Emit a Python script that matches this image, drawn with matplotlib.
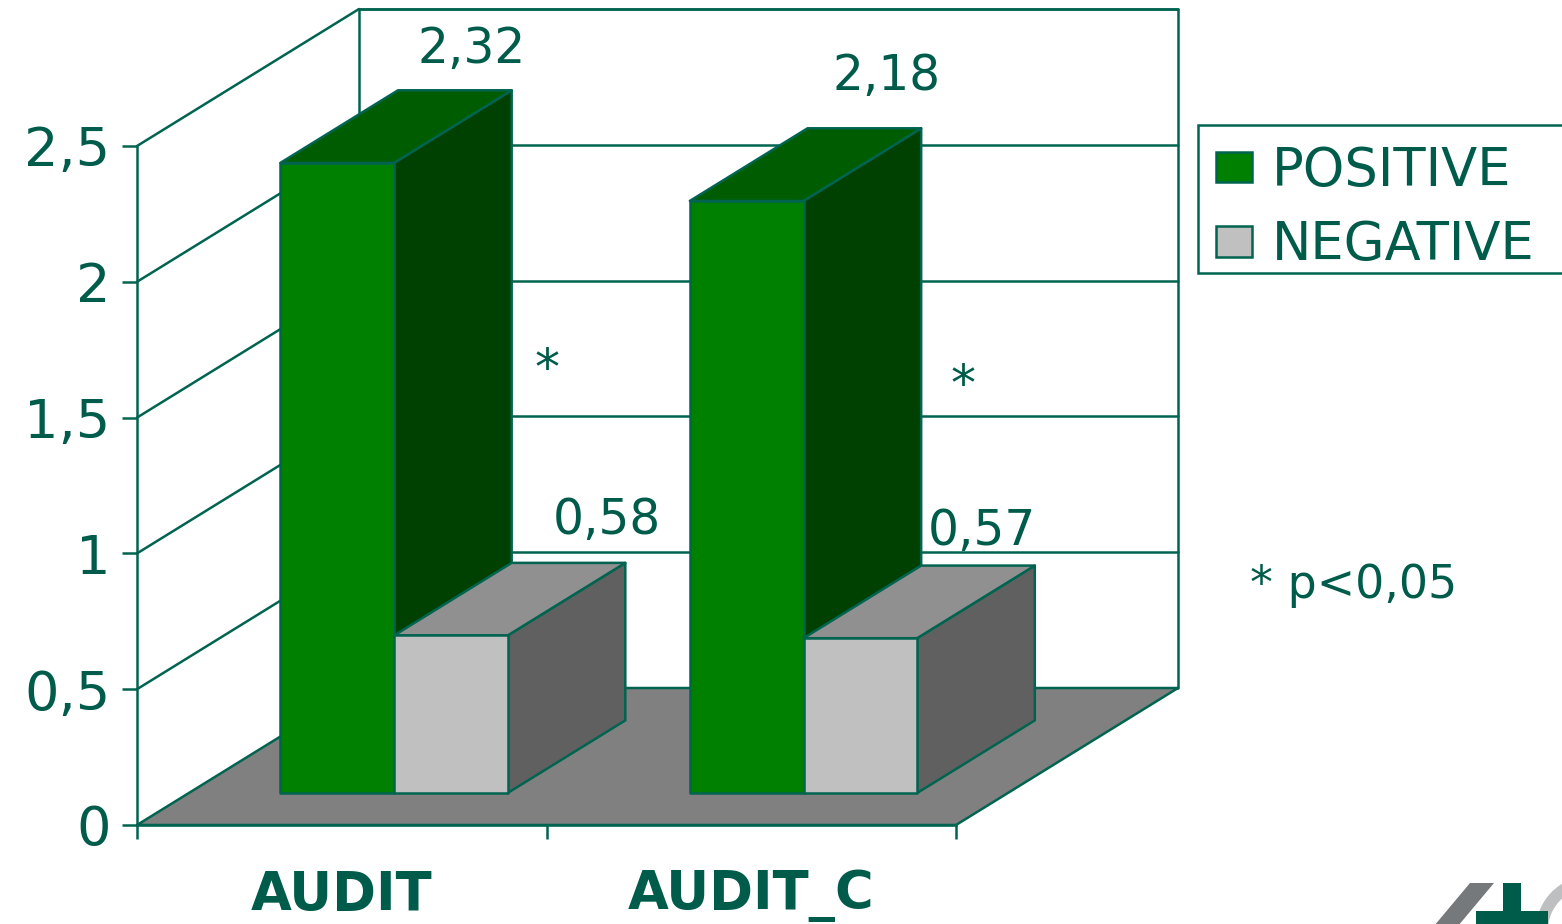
import matplotlib
matplotlib.use("Agg")
import matplotlib.pyplot as plt
from matplotlib.patches import Polygon, Rectangle, Wedge, Patch
from matplotlib.transforms import Affine2D

# ---- data ----
categories = ["AUDIT", "AUDIT_C"]
series_names = ["POSITIVE", "NEGATIVE"]
positive = [2.32, 2.18]
negative = [0.58, 0.57]
y_ticks = [0, 0.5, 1, 1.5, 2, 2.5]
y_tick_labels = ["0", "0,5", "1", "1,5", "2", "2,5"]
value_labels_pos = ["2,32", "2,18"]
value_labels_neg = ["0,58", "0,57"]

# ---- style ----
W, H = 1562, 924
INK = "#005C4A"
LINE = "#006450"
LW = 1.8
FRONT = ["#008000", "#C0C0C0"]
TOP = ["#005C00", "#909090"]
SIDE = ["#004000", "#606060"]
FLOOR = "#808080"

fig = plt.figure(figsize=(W / 100, H / 100), dpi=100, facecolor="white")
plt.rcParams["font.family"] = ["DejaVu Sans"]
L, R, T, B = 137, 956, 146, 825
ax = fig.add_axes([L / W, 1 - B / H, (R - L) / W, (B - T) / H])
ax.set_xlim(0, 2)
ax.set_ylim(0, 2.5)
ax.patch.set_visible(False)
px_tf = Affine2D().scale(1, -1).translate(0, H)

DX = 222 / 409.5   # depth shift in category units
DY = 137 / 271.6   # depth shift in value units


def proj(x, v, d=0.0):
    return (x + d * DX, v + d * DY)


def poly(points, fc, ec=LINE, lw=LW, z=1):
    ax.add_patch(Polygon(points, closed=True, facecolor=fc, edgecolor=ec,
                         linewidth=lw, clip_on=False, zorder=z, joinstyle="round"))


def line(a, b, z=1):
    ax.plot([a[0], b[0]], [a[1], b[1]], color=LINE, lw=LW, clip_on=False, zorder=z,
            solid_capstyle="round")


# walls
poly([proj(0, 0, 1), proj(2, 0, 1), proj(2, 2.5, 1), proj(0, 2.5, 1)], "white", z=1)
poly([proj(0, 0, 0), proj(2, 0, 0), proj(2, 0, 1), proj(0, 0, 1)], FLOOR, z=1.1)
for v in y_ticks[1:]:
    line(proj(0, v, 0), proj(0, v, 1), z=1.05)
    line(proj(0, v, 1), proj(2, v, 1), z=1.05)

# bars
BAR_D0, BAR_D1 = 32 / 137, 32 / 137 + 0.53
BAR_LEFT, BAR_W = 0.2235, 0.2775


def bar(x0, x1, v, s):
    z = 2 + s * 0.1
    poly([proj(x1, 0, BAR_D0), proj(x1, 0, BAR_D1), proj(x1, v, BAR_D1), proj(x1, v, BAR_D0)], SIDE[s], z=z)
    poly([proj(x0, v, BAR_D0), proj(x1, v, BAR_D0), proj(x1, v, BAR_D1), proj(x0, v, BAR_D1)], TOP[s], z=z)
    poly([proj(x0, 0, BAR_D0), proj(x1, 0, BAR_D0), proj(x1, v, BAR_D0), proj(x0, v, BAR_D0)], FRONT[s], z=z)


label_shift_pos = [(17, 41), (22, 52)]
label_shift_neg = [(38, 43), (4, 35)]
for i in range(len(categories)):
    x = i + BAR_LEFT
    bar(x, x + BAR_W, positive[i], 0)
    bar(x + BAR_W, x + 2 * BAR_W, negative[i], 1)
    for s, (val, txt, sh) in enumerate([(positive[i], value_labels_pos[i], label_shift_pos[i]),
                                        (negative[i], value_labels_neg[i], label_shift_neg[i])]):
        px, py = proj(x + (s + 0.5) * BAR_W, val, BAR_D1)
        ax.annotate(txt, (px, py), xytext=sh, textcoords="offset pixels", ha="center",
                    va="center", fontsize=35, color=INK, annotation_clip=False, zorder=5)

# axes
for sp in ("top", "right"):
    ax.spines[sp].set_visible(False)
for sp in ("left", "bottom"):
    ax.spines[sp].set_color(LINE)
    ax.spines[sp].set_linewidth(LW)
ax.set_yticks(y_ticks, y_tick_labels)
ax.set_xticks(range(len(categories) + 1), [""] * (len(categories) + 1))
ax.set_xticks([i + 0.5 for i in range(len(categories))], categories, minor=True)
ax.tick_params(axis="y", which="major", length=11, width=LW, color=LINE,
               labelcolor=INK, labelsize=39, pad=8)
ax.tick_params(axis="x", which="major", length=10, width=LW, color=LINE)
ax.tick_params(axis="x", which="minor", length=0, labelcolor=INK, labelsize=38, pad=32)
for t in ax.get_xticklabels(minor=True):
    t.set_fontweight("bold")

# legend: box runs past the right edge of the picture
ax.add_patch(Rectangle((1198, 125), 400, 148, transform=px_tf, facecolor="white",
                       edgecolor=LINE, linewidth=LW, clip_on=False, zorder=4))
leg = ax.legend(
    handles=[Patch(facecolor=FRONT[k], edgecolor=LINE, linewidth=LW, label=series_names[k]) for k in range(2)],
    loc="upper left",
    bbox_to_anchor=(1201 / W, 1 - 286 / H, 400 / W, 156 / H),
    bbox_transform=fig.transFigure,
    mode="expand",
    fontsize=38,
    handlelength=0.68,
    handleheight=0.52,
    handletextpad=0.38,
    labelspacing=0.42,
    borderpad=0.28,
    borderaxespad=0,
    frameon=False,
    labelcolor=INK,
)

# annotation text, in pixel coordinates of the picture
for tx, ty, s, size in [(547, 370, "*", 36), (963, 386, "*", 36), (1354, 586, "* p<0,05", 33)]:
    fig.text(tx, ty, s, transform=px_tf, ha="center", va="center", fontsize=size, color=INK)

# logo cut by the lower edge
fig.add_artist(Polygon([(1470, 883), (1494, 883), (1458, 926), (1434, 926)], transform=px_tf,
                       facecolor="#76797B", edgecolor="none"))
fig.add_artist(Wedge((1590, 930), 54, 0, 360, width=12, transform=px_tf,
                     facecolor="#BDBFC0", edgecolor="none"))
fig.add_artist(Rectangle((1503, 883), 18, 44, transform=px_tf, facecolor="#005C4A", edgecolor="none"))
fig.add_artist(Rectangle((1476, 911), 72, 16, transform=px_tf, facecolor="#005C4A", edgecolor="none"))

fig.savefig("out.png", dpi=100)
